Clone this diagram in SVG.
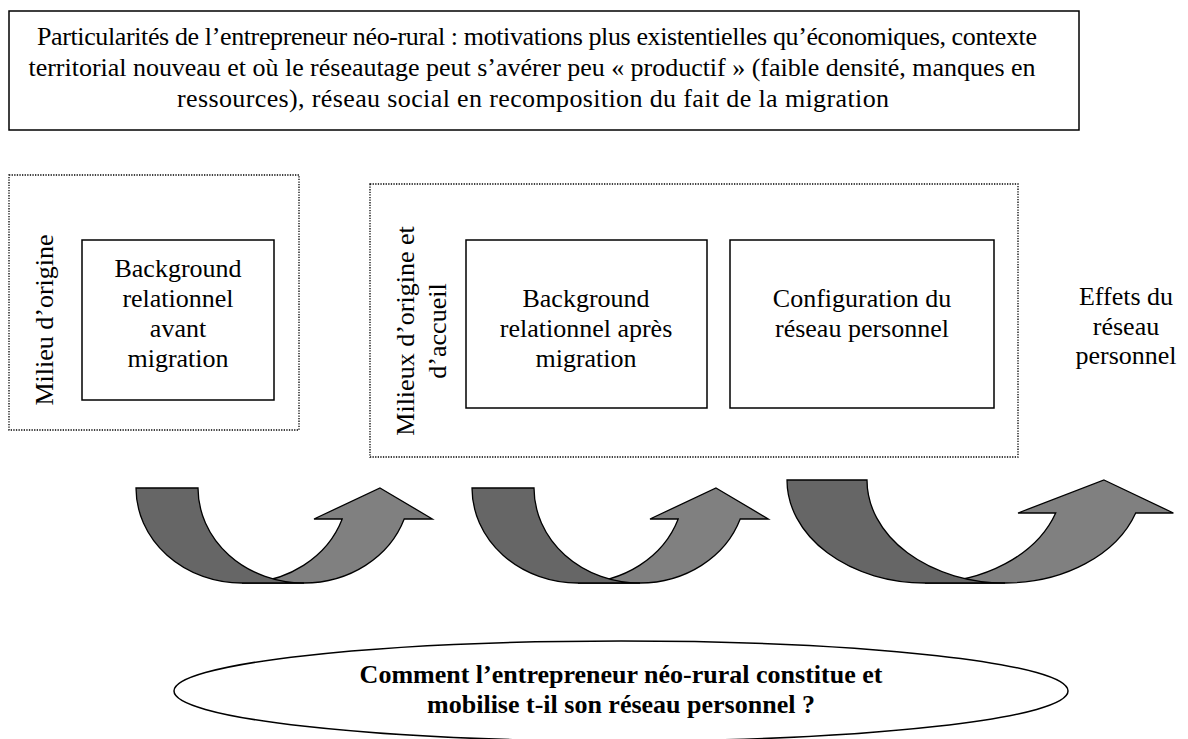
<svg xmlns="http://www.w3.org/2000/svg" width="1188" height="739" viewBox="0 0 1188 739">
  <style>
    text { font-family: 'Liberation Serif', 'Times New Roman', serif; font-size: 26px; fill: #000; text-anchor: middle; }
    .b { font-weight: bold; }
    .box { fill: #fff; stroke: #000; stroke-width: 1.5; }
    .dot { fill: none; stroke: #000; stroke-width: 1.3; stroke-dasharray: 1.3 1.3; }
    .back { fill: #666666; stroke: #000; stroke-width: 1.3; }
    .front { fill: #808080; stroke: #000; stroke-width: 1.3; }
  </style>
  <rect width="1188" height="739" fill="#fff"/>

  <g id="n-context">
    <rect class="box" x="9" y="11" width="1070" height="119"/>
    <text x="537" y="45" textLength="1000" lengthAdjust="spacing">Particularités de l’entrepreneur néo-rural : motivations plus existentielles qu’économiques, contexte</text>
    <text x="532" y="76" textLength="1007" lengthAdjust="spacing">territorial nouveau et où le réseautage peut s’avérer peu « productif » (faible densité, manques en</text>
    <text x="533" y="107" textLength="712" lengthAdjust="spacing">ressources), réseau social en recomposition du fait de la migration</text>
  </g>

  <g id="n-milieu-origine">
    <rect class="dot" x="9" y="175" width="290" height="255"/>
    <text transform="translate(53,320) rotate(-90)">Milieu d’origine</text>
  </g>

  <g id="n-bg-avant">
    <rect class="box" x="82" y="240" width="192" height="160"/>
    <text x="178" y="277">Background</text>
    <text x="178" y="307">relationnel</text>
    <text x="178" y="337">avant</text>
    <text x="178" y="367">migration</text>
  </g>

  <g id="n-milieux-accueil">
    <rect class="dot" x="370" y="184" width="648" height="273"/>
    <text transform="translate(414,331) rotate(-90)">Milieux d’origine et</text>
    <text transform="translate(446,331) rotate(-90)">d’accueil</text>
  </g>

  <g id="n-bg-apres">
    <rect class="box" x="466" y="240" width="241" height="168"/>
    <text x="586" y="307">Background</text>
    <text x="586" y="337">relationnel après</text>
    <text x="586" y="367">migration</text>
  </g>

  <g id="n-configuration">
    <rect class="box" x="730" y="240" width="264" height="168"/>
    <text x="862" y="307">Configuration du</text>
    <text x="862" y="337">réseau personnel</text>
  </g>

  <g id="n-effets">
    <text x="1126" y="305">Effets du</text>
    <text x="1126" y="335">réseau</text>
    <text x="1126" y="364">personnel</text>
  </g>

  <g id="connectors">
    <g id="arrow-1">
      <path class="front" d="M380,488 L432.4,519 L404.2,519 A106,95 0 0 1 304,583 L242,583 A106,95 0 0 0 342.2,519 L314,519 Z"/>
      <path class="back" d="M136,488 L198,488 A106,95 0 0 0 304,583 L242,583 A106,95 0 0 1 136,488 Z"/>
    </g>
    <g id="arrow-2">
      <path class="front" d="M716,488 L768.4,519 L740.2,519 A106,95 0 0 1 640,583 L578,583 A106,95 0 0 0 678.2,519 L650,519 Z"/>
      <path class="back" d="M472,488 L534,488 A106,95 0 0 0 640,583 L578,583 A106,95 0 0 1 472,488 Z"/>
    </g>
    <g id="arrow-3">
      <path class="front" d="M1104,480 L1173.4,513 L1135.7,513 A138,103 0 0 1 1005,583 L925,583 A138,103 0 0 0 1055.7,513 L1018,513 Z"/>
      <path class="back" d="M787,480 L867,480 A138,103 0 0 0 1005,583 L925,583 A138,103 0 0 1 787,480 Z"/>
    </g>
  </g>

  <g id="n-question">
    <ellipse cx="621" cy="691" rx="447" ry="50" fill="#fff" stroke="#000" stroke-width="1.5"/>
    <text class="b" x="621" y="683">Comment l’entrepreneur néo-rural constitue et</text>
    <text class="b" x="621" y="713">mobilise t-il son réseau personnel ?</text>
  </g>
</svg>
